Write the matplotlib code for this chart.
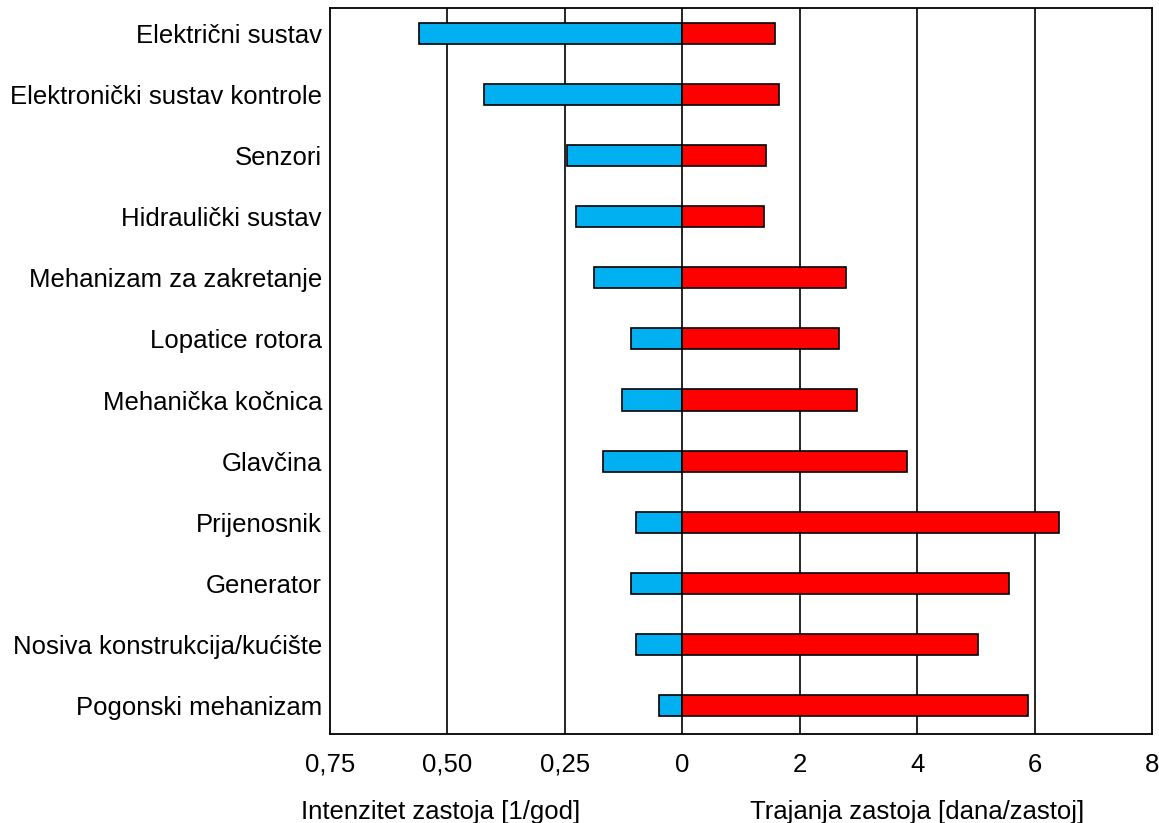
import matplotlib.pyplot as plt
import numpy as np

plt.rcParams['font.family'] = ['Liberation Sans', 'DejaVu Sans']

# components, top to bottom
components = [
    'Električni sustav',
    'Elektronički sustav kontrole',
    'Senzori',
    'Hidraulički sustav',
    'Mehanizam za zakretanje',
    'Lopatice rotora',
    'Mehanička kočnica',
    'Glavčina',
    'Prijenosnik',
    'Generator',
    'Nosiva konstrukcija/kućište',
    'Pogonski mehanizam',
]

# failure rate [1/god] (left side)
intensity = [0.560, 0.422, 0.245, 0.226, 0.187, 0.109,
             0.128, 0.168, 0.098, 0.109, 0.098, 0.049]

# downtime [dana/zastoj] (right side)
duration = [1.58, 1.64, 1.43, 1.40, 2.78, 2.67,
            2.98, 3.83, 6.41, 5.57, 5.04, 5.89]

tick_pos = [-6, -4, -2, 0, 2, 4, 6, 8]
tick_labels = ['0,75', '0,50', '0,25', '0', '2', '4', '6', '8']

# left axis 0.75 -> 0 is drawn on the same scale as 6 -> 0 days
left_scale = 8
fs = 18.5

fig = plt.figure(figsize=(11.59, 8.23), dpi=100)
ax = fig.add_axes([330 / 1159, 89 / 823, 822 / 1159, 726 / 823])

y = np.arange(len(components))
left = -np.array(intensity) * left_scale

for xv in tick_pos[1:-1]:
    ax.axvline(xv, color='black', lw=1.2, zorder=1)

ax.barh(y, left, height=0.345, color='#00B0F0', edgecolor='black', lw=1.2, zorder=2)
ax.barh(y, duration, height=0.345, color='#FF0000', edgecolor='black', lw=1.2, zorder=2)

ax.set_xlim(-6, 8)
ax.set_ylim(11.47, -0.42)
ax.set_yticks(y)
ax.set_yticklabels(components)
ax.set_xticks(tick_pos)
ax.set_xticklabels(tick_labels)
ax.tick_params(axis='both', length=0, labelsize=fs)
ax.tick_params(axis='y', pad=5.8)
ax.tick_params(axis='x', pad=13.5)

for s in ax.spines.values():
    s.set_linewidth(1.3)

ax.text(-4.11, -0.107, 'Intenzitet zastoja [1/god]', transform=ax.get_xaxis_transform(),
        ha='center', va='center', fontsize=fs)
ax.text(4.0, -0.107, 'Trajanja zastoja [dana/zastoj]', transform=ax.get_xaxis_transform(),
        ha='center', va='center', fontsize=fs)

fig.savefig('out.png', dpi=100)
